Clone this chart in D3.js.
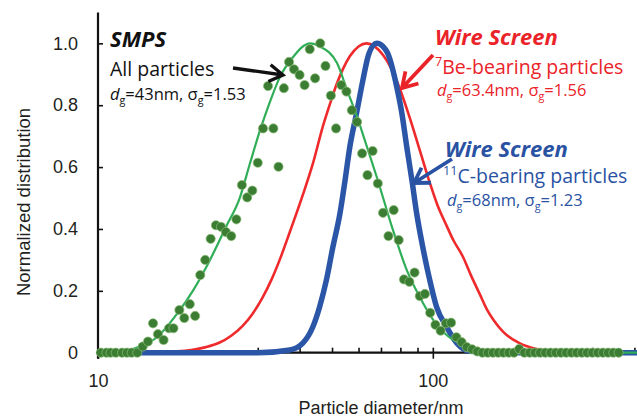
<!DOCTYPE html>
<html>
<head>
<meta charset="UTF-8">
<title>Particle size distributions</title>
<script src="https://d3js.org/d3.v7.min.js"></script>
<style>
  body { margin: 0; background: #fff; }
  svg text { font-family: "Liberation Sans", Arial, sans-serif; fill: #231f20; }
  svg text.note { font-family: "Open Sans", sans-serif; }
</style>
</head>
<body>
<div id="chart"></div>
<script>
// SMPS measured points (all particles)
const smpsDiameter = [10.2, 10.6, 10.9, 11.3, 11.8, 12.2, 12.6, 13.1, 13.6, 14.1,
  14.6, 15.1, 15.7, 16.3, 16.8, 17.5, 18.1, 18.8, 19.5, 20.2,
  20.9, 21.7, 22.5, 23.3, 24.1, 25.0, 25.9, 26.9, 27.9, 28.9,
  30.0, 31.1, 32.2, 33.4, 34.6, 35.9, 37.2, 38.5, 40.0, 41.4,
  42.9, 44.5, 46.1, 47.8, 49.6, 51.4, 53.3, 55.2, 57.3, 59.4,
  61.5, 63.8, 66.1, 68.5, 71.0, 73.7, 76.4, 79.1, 82.0, 85.1,
  88.2, 91.4, 94.7, 98.2, 101.8, 105.5, 109.4, 113.4, 117.6, 121.9,
  126.3, 131.0, 135.8, 140.7, 145.9, 151.2, 156.8, 162.5, 168.5, 174.7,
  181.1, 187.7, 194.6, 201.7, 209.1, 216.7, 224.7, 232.9, 241.4, 250.3,
  259.5, 269.0, 278.8, 289.0, 299.6, 310.6, 322.0, 333.8, 346.0, 358.7];
const smpsValue = [0, 0, 0, 0, 0, 0, 0, 0, 0.02, 0.036,
  0.095, 0.06, 0.041, 0.079, 0.079, 0.138, 0.112, 0.157, 0.119, 0.251,
  0.30, 0.368, 0.412, 0.407, 0.39, 0.377, 0.431, 0.542, 0.502, 0.524,
  0.614, 0.725, 0.862, 0.725, 0.601, 0.855, 0.94, 0.916, 0.898, 0.865,
  0.981, 0.887, 1.0, 0.927, 0.831, 0.725, 0.865, 0.844, 0.784, 0.746,
  0.644, 0.574, 0.652, 0.547, 0.452, 0.377, 0.461, 0.364, 0.237, 0.229,
  0.259, 0.183, 0.19, 0.129, 0.09, 0.071, 0.095, 0.097, 0.05, 0.034,
  0.018, 0.011, 0.004, 0, 0, 0, 0, 0, 0, 0,
  0.012, 0, 0, 0, 0, 0, 0, 0, 0, 0,
  0, 0, 0, 0, 0, 0, 0, 0, 0, 0];

// SMPS lognormal fit (green line)
const smpsFitDiameter = [10, 12, 13.3, 15, 17.2, 19.2, 21.6, 24.2, 26.5, 28.4,
  30.5, 32.6, 34.9, 38.2, 43, 46, 51.7, 55.4, 59.4, 63.6,
  68, 76, 83.6, 91.4, 100, 112, 129, 151, 200, 410];
const smpsFitValue = [0, 0.005, 0.02, 0.05, 0.125, 0.2, 0.3, 0.41, 0.5, 0.61,
  0.72, 0.81, 0.89, 0.955, 1.0, 0.99, 0.937, 0.85, 0.762, 0.665,
  0.568, 0.397, 0.267, 0.18, 0.108, 0.05, 0.02, 0.003, 0, 0];

// Wire screen, 7Be-bearing particles (red line)
const beDiameter = [10, 15, 17, 19, 21, 23, 25, 27, 29, 31,
  33, 35, 37.4, 40.9, 43.8, 46.9, 49.5, 51.7, 53.8, 56.5,
  60, 63.4, 67, 71, 75, 79.6, 85.3, 91.4, 97.9, 103,
  110, 115, 123, 130, 138, 145, 152, 162, 182, 204,
  240, 300, 410];
const beValue = [0, 0.001, 0.004, 0.009, 0.018, 0.032, 0.055, 0.086, 0.127, 0.178,
  0.237, 0.304, 0.39, 0.51, 0.61, 0.73, 0.81, 0.87, 0.915, 0.958,
  0.99, 1.0, 0.99, 0.962, 0.92, 0.855, 0.76, 0.655, 0.55, 0.48,
  0.41, 0.365, 0.31, 0.25, 0.19, 0.14, 0.105, 0.068, 0.03, 0.012,
  0.003, 0, 0];

// Wire screen, 11C-bearing particles (blue line)
const cDiameter = [10, 30, 37.4, 40.9, 43.8, 45.9, 48.1, 50.3, 52.8, 54.7,
  56.5, 59.2, 61.8, 64.5, 68, 71, 73.3, 78, 80.8, 83.6,
  86.6, 89.5, 93.3, 97.9, 102.6, 110, 118, 129, 200, 410];
const cValue = [0, 0, 0.009, 0.031, 0.083, 0.148, 0.235, 0.342, 0.45, 0.558,
  0.665, 0.775, 0.88, 0.968, 1.0, 0.99, 0.968, 0.86, 0.775, 0.665,
  0.558, 0.45, 0.342, 0.235, 0.148, 0.083, 0.031, 0.005, 0, 0];

const yTicks = [0, 0.2, 0.4, 0.6, 0.8, 1.0];
const yTickLabels = ["0", "0.2", "0.4", "0.6", "0.8", "1.0"];
const xMajorTicks = [10, 100];
const xMajorLabels = ["10", "100"];
const xMinorTicks = [20, 30, 40, 50, 60, 70, 80, 90, 200, 300, 400];

const width = 637;
const height = 420;

const svg = d3.select("#chart")
  .append("svg")
  .attr("width", width)
  .attr("height", height);

const x = d3.scaleLog()
  .domain([10, 410])
  .range([98, 638]);

const y = d3.scaleLinear()
  .domain([0, 1.1])
  .range([352.7, 12.4]);

// x axis: labels + ticks going down, minor ticks pointing up
const xAxis = svg.append("g")
  .attr("transform", `translate(0,${y(0)})`)
  .call(d3.axisBottom(x)
    .tickValues(xMajorTicks)
    .tickSizeInner(6).tickSizeOuter(0).tickPadding(16)
    .tickFormat((d, i) => xMajorLabels[i]));
xAxis.select(".domain").remove();
xAxis.selectAll("text").attr("font-size", 18).attr("font-family", null);
xAxis.selectAll("line").attr("stroke", "#111").attr("stroke-width", 1.6);

const xMinor = svg.append("g")
  .attr("transform", `translate(0,${y(0)})`)
  .call(d3.axisTop(x)
    .tickValues(xMinorTicks.concat([100]))
    .tickSizeInner(5).tickSizeOuter(0)
    .tickFormat(""));
xMinor.select(".domain").remove();
xMinor.selectAll("line").attr("stroke", "#111").attr("stroke-width", 1.6);

// y axis: ticks point into the plot
const yAxis = svg.append("g")
  .attr("transform", `translate(${x(10)},0)`)
  .call(d3.axisLeft(y)
    .tickValues(yTicks)
    .tickSizeInner(-5).tickSizeOuter(0).tickPadding(20)
    .tickFormat((d, i) => yTickLabels[i]));
yAxis.select(".domain").remove();
yAxis.selectAll("text").attr("font-size", 18).attr("font-family", null);
yAxis.selectAll("line").attr("stroke", "#111").attr("stroke-width", 1.6);

// axis lines
svg.append("line")
  .attr("x1", x(10) - 2).attr("x2", width)
  .attr("y1", y(0)).attr("y2", y(0))
  .attr("stroke", "#111").attr("stroke-width", 2.2);
svg.append("line")
  .attr("x1", x(10)).attr("x2", x(10))
  .attr("y1", y(1.1)).attr("y2", y(0) + 6)
  .attr("stroke", "#111").attr("stroke-width", 2.2);

// axis titles
svg.append("text")
  .attr("x", 381).attr("y", 414)
  .attr("text-anchor", "middle")
  .attr("font-size", 18)
  .text("Particle diameter/nm");
svg.append("text")
  .attr("transform", "translate(30,202) rotate(-90)")
  .attr("text-anchor", "middle")
  .attr("font-size", 18.5)
  .text("Normalized distribution");

// curves
const zip = (a, b) => a.map((d, i) => [d, b[i]]);
const line = d3.line()
  .x(d => x(d[0]))
  .y(d => y(d[1]))
  .curve(d3.curveMonotoneX);

svg.append("path")
  .datum(zip(beDiameter, beValue))
  .attr("d", line)
  .attr("fill", "none")
  .attr("stroke", "#ee2a2c")
  .attr("stroke-width", 2.6);

svg.append("path")
  .datum(zip(cDiameter, cValue))
  .attr("d", line)
  .attr("fill", "none")
  .attr("stroke", "#2b55a6")
  .attr("stroke-width", 5.5);

svg.append("path")
  .datum(zip(smpsFitDiameter, smpsFitValue))
  .attr("d", line)
  .attr("fill", "none")
  .attr("stroke", "#2fae57")
  .attr("stroke-width", 2.2);

svg.selectAll(".dot")
  .data(zip(smpsDiameter, smpsValue))
  .enter()
  .append("circle")
  .attr("class", "dot")
  .attr("cx", d => x(d[0]))
  .attr("cy", d => y(d[1]))
  .attr("r", 4.6)
  .attr("fill", "#3b7d33")
  .attr("stroke", "#8cbc78")
  .attr("stroke-width", 0.7);

// annotations
function arrow(x1, y1, x2, y2, color, w, head) {
  const a = Math.atan2(y2 - y1, x2 - x1);
  const h1 = [x2 - head * Math.cos(a - 0.55), y2 - head * Math.sin(a - 0.55)];
  const h2 = [x2 - head * Math.cos(a + 0.55), y2 - head * Math.sin(a + 0.55)];
  svg.append("path")
    .attr("d", `M${x1},${y1}L${x2},${y2}M${h1}L${x2},${y2}L${h2}`)
    .attr("fill", "none")
    .attr("stroke", color)
    .attr("stroke-width", w)
    .attr("stroke-linecap", "butt")
    .attr("stroke-linejoin", "miter");
}

function label(x0, y0, lines, color) {
  lines.forEach(l => {
    const t = svg.append("text")
      .attr("class", "note")
      .attr("x", x0 + (l.dx || 0))
      .attr("y", y0 + l.dy)
      .attr("font-size", l.size)
      .style("fill", color);
    if (l.bold) t.attr("font-weight", "bold").attr("font-style", "italic");
    l.parts.forEach(p => {
      const s = t.append("tspan").text(p.t);
      if (p.shift) s.attr("dy", p.shift);
      if (p.small) s.attr("font-size", l.size * 0.65);
      if (p.it) s.attr("font-style", "italic");
    });
  });
}

function dgLine(dg, sg) {
  return [
    { t: "d", it: true },
    { t: "g", shift: 4, small: true },
    { t: `=${dg}nm, σ`, shift: -4 },
    { t: "g", shift: 4, small: true },
    { t: `=${sg}`, shift: -4 }
  ];
}

label(110, 0, [
  { dy: 46.5, size: 22, bold: true, parts: [{ t: "SMPS" }] },
  { dy: 76, size: 19.5, parts: [{ t: "All particles" }] },
  { dy: 100, size: 16.5, parts: dgLine("43", "1.53") }
], "#111");

label(435, 0, [
  { dy: 45, size: 22, bold: true, parts: [{ t: "Wire Screen" }] },
  { dy: 74, size: 19.5, parts: [{ t: "7", shift: -8, small: true }, { t: "Be-bearing particles", shift: 8 }] },
  { dy: 96, dx: 2, size: 16.5, parts: dgLine("63.4", "1.56") }
], "#ea2329");

label(443, 0, [
  { dy: 157, dx: 2, size: 22, bold: true, parts: [{ t: "Wire Screen" }] },
  { dy: 183, size: 19.5, parts: [{ t: "11", shift: -8, small: true }, { t: "C-bearing particles", shift: 8 }] },
  { dy: 205.5, dx: 4, size: 16.5, parts: dgLine("68", "1.23") }
], "#2a52a3");

arrow(233, 68, 283, 75, "#111", 3.3, 16);
arrow(433, 55, 402, 88, "#ea2329", 3.8, 17);
arrow(452, 159, 414, 183, "#2a52a3", 3.8, 17);
</script>
</body>
</html>
